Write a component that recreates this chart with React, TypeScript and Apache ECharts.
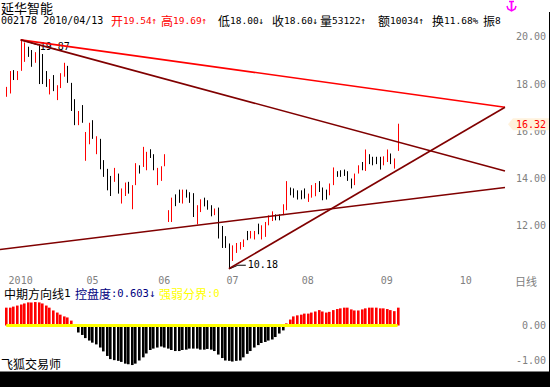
import React, { useEffect, useRef } from 'react';
import * as echarts from 'echarts';

// ---- daily bars (high / low / red=1 up, 0 down), 2010-03-30 .. 2010-09 ----
const highs = [
  17.88, 18.55, 18.59, 18.55, 19.87, 19.76, 19.58, 19.44, 19.35, 19.69,
  19.27, 18.55, 18.21, 18.38, 17.95, 18.46, 18.90, 18.77, 18.05, 17.36,
  16.86, 17.11, 15.97, 16.36, 16.47, 15.79, 15.68, 14.78, 14.41, 14.11,
  14.45, 14.21, 13.58, 13.83, 13.86, 13.72, 14.65, 14.56, 15.34, 15.13,
  15.24, 15.03, 14.45, 14.52, 15.03, 12.66, 13.19, 13.33, 13.53, 13.53,
  13.53, 13.42, 13.38, 12.87, 13.12, 13.19, 13.08, 12.87, 12.73, 12.77,
  11.99, 11.56, 11.25, 11.17, 11.27, 11.31, 11.42, 11.78, 11.78, 11.78,
  12.09, 12.02, 12.16, 12.44, 12.61, 12.48, 12.48, 12.91, 13.89, 13.62,
  13.58, 13.50, 13.50, 13.58, 13.36, 13.72, 13.81, 13.89, 13.62, 13.53,
  13.79, 14.47, 14.31, 14.35, 14.38, 14.31, 14.00, 14.21, 14.56, 14.70,
  15.23, 15.03, 14.92, 14.92, 14.92, 14.94, 15.23, 15.06, 14.85, 16.32,
];
const lows = [
  17.46, 17.60, 18.17, 18.17, 18.56, 18.94, 19.15, 18.73, 18.90, 18.00,
  18.00, 17.88, 17.56, 17.70, 17.32, 17.83, 18.31, 18.05, 16.86, 16.26,
  16.26, 16.36, 14.75, 15.45, 15.68, 15.03, 14.39, 14.07, 13.50, 13.26,
  13.86, 13.36, 12.94, 13.26, 13.36, 12.70, 13.72, 14.21, 14.49, 14.35,
  14.87, 14.35, 13.72, 13.90, 14.52, 12.16, 12.16, 12.83, 12.97, 12.94,
  13.19, 12.97, 12.37, 12.06, 12.58, 12.82, 12.68, 12.40, 12.45, 11.46,
  11.06, 11.06, 10.18, 10.51, 10.85, 10.99, 11.10, 11.39, 11.46, 11.42,
  11.64, 11.42, 11.53, 12.02, 12.20, 12.23, 12.23, 12.45, 12.66, 13.29,
  13.19, 13.11, 13.12, 13.15, 13.01, 13.19, 13.25, 13.43, 13.08, 13.11,
  13.29, 13.72, 14.07, 14.07, 14.11, 13.90, 13.58, 13.72, 14.21, 14.35,
  14.32, 14.61, 14.56, 14.61, 14.38, 14.56, 14.70, 14.61, 14.42, 15.17,
];
const rise = [
  1, 1, 0, 1, 1, 1, 0, 0, 1, 0,
  0, 0, 1, 0, 1, 1, 1, 0, 0, 0,
  1, 0, 1, 1, 0, 1, 0, 0, 0, 0,
  1, 0, 1, 1, 0, 1, 1, 0, 1, 1,
  0, 0, 1, 1, 1, 1, 1, 0, 0, 1,
  0, 0, 0, 1, 1, 0, 0, 0, 1, 0,
  0, 0, 0, 1, 1, 1, 1, 0, 1, 1,
  0, 1, 1, 1, 1, 0, 0, 1, 1, 0,
  0, 0, 0, 0, 1, 1, 1, 0, 0, 0,
  1, 1, 0, 0, 0, 0, 0, 1, 1, 0,
  1, 0, 0, 0, 0, 1, 1, 0, 1, 1,
];

// 中期方向线1 (histogram)
const trendIndicator = [
  0.51, 0.51, 0.54, 0.57, 0.60, 0.63, 0.66, 0.66, 0.67, 0.66,
  0.63, 0.57, 0.51, 0.43, 0.37, 0.31, 0.26, 0.23, 0.14, 0.03,
  -0.20, -0.27, -0.36, -0.43, -0.49, -0.54, -0.63, -0.74, -0.87, -0.96,
  -0.99, -1.01, -1.04, -1.09, -1.11, -1.13, -1.09, -1.00, -0.91, -0.80,
  -0.70, -0.66, -0.63, -0.60, -0.63, -0.66, -0.70, -0.73, -0.73, -0.70,
  -0.69, -0.66, -0.66, -0.66, -0.69, -0.69, -0.67, -0.69, -0.73, -0.83,
  -0.93, -1.00, -1.01, -1.03, -1.01, -1.00, -0.91, -0.81, -0.73, -0.63,
  -0.56, -0.50, -0.47, -0.43, -0.40, -0.33, -0.23, -0.14, 0.06, 0.17,
  0.26, 0.29, 0.31, 0.34, 0.34, 0.37, 0.40, 0.44, 0.40, 0.37,
  0.39, 0.44, 0.47, 0.49, 0.51, 0.51, 0.46, 0.43, 0.43, 0.46,
  0.49, 0.51, 0.51, 0.51, 0.49, 0.49, 0.47, 0.44, 0.41, 0.51,
];
const boundary = trendIndicator.map(() => 0); // 强弱分界:0

// month tick labels (bar index -> text)
const tickIdx = [4, 24, 44, 63, 84, 106, 128];
const tickText = ['2010', '05', '06', '07', '08', '09', '10'];

const priceTicks = [12, 14, 16, 18, 20];
const indTicks = [0, -1];

// trend lines [barIndex, price]
const trendLines = [
  { from: [4, 19.87], to: [138.94, 17.02], color: '#ff0000' },
  { from: [4, 19.87], to: [138.94, 14.32], color: '#800000' },
  { from: [-1.75, 10.995], to: [138.94, 13.62], color: '#800000' },
  { from: [62, 10.18], to: [138.94, 17.02], color: '#800000' },
];

const peak = { idx: 4, value: 19.87 };
const trough = { idx: 62, value: 10.18 };
const lastClose = 16.32;

const headerCode = '002178 2010/04/13';
const headerNames = ['开', '高', '低', '收', '量', '额', '换', '振'];
const headerValues = ['19.54↑', '19.69↑', '18.00↓', '18.60↓', '53122↑', '10034↑', '11.68%', '8'];
const headerRed = [1, 1, 0, 0, 0, 0, 0, 0];
const headerX = [111, 161, 218, 272, 320, 378, 432, 483];

const MONO = "'DejaVu Sans Mono', monospace";
const CJK = "'Noto Sans CJK SC', sans-serif";
const GRAY = '#808080';

export default function App() {
  const ref = useRef<HTMLDivElement>(null);
  useEffect(() => {
    if (!ref.current) return;
    const chart = echarts.init(ref.current, undefined, { renderer: 'svg' });

    const headerSegs = headerNames.map((n, k) => {
      const col = headerRed[k] ? '#ff0000' : '#000000';
      return {
        type: 'text', x: headerX[k], y: 20.5, silent: true,
        style: {
          text: `{c|${n}}{a|${headerValues[k]}}`,
          verticalAlign: 'middle',
          rich: {
            c: { fontFamily: CJK, fontSize: 12, fill: col },
            a: { fontFamily: MONO, fontSize: 9.5, fill: col },
          },
        },
      };
    });

    const staticGraphics: any[] = [
      { type: 'text', x: 1, y: 1, silent: true, style: { text: '延华智能', fontFamily: CJK, fontSize: 13, lineHeight: 13, fill: '#000', verticalAlign: 'top' } },
      { type: 'text', x: 1, y: 20.5, silent: true, style: { text: headerCode, fontFamily: MONO, fontSize: 10, fill: '#000', verticalAlign: 'middle' } },
      ...headerSegs,
      {
        type: 'text', x: 4, y: 293, silent: true,
        style: { text: '{c|中期方向线}{a|1}', verticalAlign: 'middle', rich: { c: { fontFamily: CJK, fontSize: 12, fill: '#000' }, a: { fontFamily: MONO, fontSize: 11, fill: '#000' } } },
      },
      {
        type: 'text', x: 75, y: 293, silent: true,
        style: { text: '{c|控盘度}{a|:0.603↓}', verticalAlign: 'middle', rich: { c: { fontFamily: CJK, fontSize: 12, fill: '#000080' }, a: { fontFamily: MONO, fontSize: 10.5, fill: '#000080' } } },
      },
      {
        type: 'text', x: 159, y: 293, silent: true,
        style: { text: '{c|强弱分界}{a|:0}', verticalAlign: 'middle', rich: { c: { fontFamily: CJK, fontSize: 12, fill: '#ffff00' }, a: { fontFamily: MONO, fontSize: 10.5, fill: '#ffff00' } } },
      },
      { type: 'text', x: 1, y: 363, silent: true, style: { text: '飞狐交易师', fontFamily: CJK, fontSize: 12, fill: '#000', verticalAlign: 'middle' } },
      { type: 'text', x: 515, y: 280.5, silent: true, style: { text: '日线', fontFamily: CJK, fontSize: 11, fill: GRAY, verticalAlign: 'middle' } },
      { type: 'rect', silent: true, shape: { x: 0, y: 371.5, width: 550, height: 16 }, style: { fill: '#000' } },
      { type: 'line', silent: true, shape: { x1: 549.5, y1: 12, x2: 549.5, y2: 372 }, style: { stroke: '#000', lineWidth: 1 } },
      // magenta anchor icon
      { type: 'line', silent: true, shape: { x1: 509, y1: 1.5, x2: 514, y2: 1.5 }, style: { stroke: '#ff00ff', lineWidth: 1.5 } },
      { type: 'line', silent: true, shape: { x1: 511.5, y1: 1, x2: 511.5, y2: 11 }, style: { stroke: '#ff00ff', lineWidth: 1.8 } },
      { type: 'polyline', silent: true, shape: { points: [[507, 6], [508, 9], [511.5, 11], [515, 9], [516, 6]] }, style: { stroke: '#ff00ff', lineWidth: 1.5, fill: 'none' } },
    ];

    const option: any = {
      animation: false,
      backgroundColor: '#ffffff',
      grid: [
        { left: 0, top: 25, width: 507, height: 248 },
        { left: 0, top: 290.5, width: 507, height: 77 },
      ],
      xAxis: [
        {
          type: 'value', gridIndex: 0, min: -1.75, max: 139.5,
          axisLine: { show: false }, axisTick: { show: false }, splitLine: { show: false },
          axisLabel: {
            customValues: tickIdx,
            formatter: (v: number) => { const k = tickIdx.indexOf(Math.round(v)); return k >= 0 ? tickText[k] : ''; },
            color: GRAY, fontFamily: MONO, fontSize: 10, margin: 2,
          },
        },
        {
          type: 'value', gridIndex: 1, min: -1.75, max: 139.5, show: false,
          splitLine: { show: false },
        },
      ],
      yAxis: [
        {
          type: 'value', gridIndex: 0, position: 'right', min: 10, max: 20.5,
          axisLine: { show: false }, axisTick: { show: false }, splitLine: { show: false },
          axisLabel: {
            customValues: priceTicks, formatter: (v: number) => v.toFixed(2),
            color: GRAY, fontFamily: MONO, fontSize: 10, align: 'right', margin: 39,
          },
        },
        {
          type: 'value', gridIndex: 1, position: 'right', min: -1.2, max: 1.0,
          axisLine: { show: false }, axisTick: { show: false }, splitLine: { show: false },
          axisLabel: {
            customValues: indTicks, formatter: (v: number) => v.toFixed(2),
            color: GRAY, fontFamily: MONO, fontSize: 10, align: 'right', margin: 39,
          },
        },
      ],
      series: [
        {
          type: 'custom', xAxisIndex: 0, yAxisIndex: 0, silent: true,
          data: highs.map((h, i) => [i, lows[i], h, rise[i]]),
          encode: { x: 0, y: [1, 2] },
          renderItem: (_p: any, api: any) => {
            const i = api.value(0);
            const lo = api.coord([i, api.value(1)]);
            const hi = api.coord([i, api.value(2)]);
            const px = Math.round(lo[0]) + 0.5;
            return {
              type: 'line',
              shape: { x1: px, y1: lo[1], x2: px, y2: hi[1] },
              style: { stroke: api.value(3) ? '#ff0000' : '#000000', lineWidth: 1 },
            };
          },
        },
        ...trendLines.map((t) => ({
          type: 'line', xAxisIndex: 0, yAxisIndex: 0, silent: true,
          data: [t.from, t.to], symbol: 'none',
          lineStyle: { color: t.color, width: 1.6 },
        })),
        {
          type: 'custom', xAxisIndex: 1, yAxisIndex: 1, silent: true,
          data: trendIndicator.map((v, i) => [i, v]),
          encode: { x: 0, y: 1 },
          renderItem: (_p: any, api: any) => {
            const i = api.value(0);
            const v = api.value(1);
            const p0 = api.coord([i, 0]);
            const p1 = api.coord([i, v]);
            const px = Math.round(p0[0]);
            return {
              type: 'rect',
              shape: { x: px - 1, y: Math.min(p0[1], p1[1]), width: 2.6, height: Math.abs(p1[1] - p0[1]) },
              style: { fill: v >= 0 ? '#ff0000' : '#000000' },
            };
          },
        },
        {
          type: 'line', xAxisIndex: 1, yAxisIndex: 1, silent: true,
          data: boundary.map((v, i) => [i, v]), symbol: 'none',
          lineStyle: { color: '#ffff00', width: 3 },
        },
      ],
      graphic: staticGraphics,
    };

    chart.setOption(option);

    const pk = chart.convertToPixel({ gridIndex: 0 }, [peak.idx, peak.value]) as number[];
    const tr = chart.convertToPixel({ gridIndex: 0 }, [trough.idx, trough.value]) as number[];
    const lc = chart.convertToPixel({ gridIndex: 0 }, [139.5, lastClose]) as number[];
    const ty = lc[1];

    chart.setOption({
      graphic: [
        ...staticGraphics,
        { type: 'polyline', silent: true, shape: { points: [[pk[0] + 1, pk[1]], [pk[0] + 17, pk[1] + 5]] }, style: { stroke: '#000', lineWidth: 1, fill: 'none' } },
        { type: 'text', x: pk[0] + 19, y: pk[1] + 7, silent: true, style: { text: peak.value.toFixed(2), fontFamily: MONO, fontSize: 10, fill: '#000', verticalAlign: 'middle' } },
        { type: 'polyline', silent: true, shape: { points: [[tr[0] + 1, tr[1]], [tr[0] + 9, tr[1] - 3.5], [tr[0] + 17, tr[1] - 3.5]] }, style: { stroke: '#000', lineWidth: 1, fill: 'none' } },
        { type: 'text', x: tr[0] + 19, y: tr[1] - 4.5, silent: true, style: { text: trough.value.toFixed(2), fontFamily: MONO, fontSize: 10, fill: '#000', verticalAlign: 'middle' } },
        { type: 'polygon', silent: true, z: 100, shape: { points: [[508, ty + 0.5], [513, ty - 5.5], [549, ty - 5.5], [549, ty + 6.5], [513, ty + 6.5]] }, style: { fill: '#fff2dc' } },
        { type: 'text', x: 546, y: ty + 0.5, silent: true, z: 101, style: { text: lastClose.toFixed(2), fontFamily: MONO, fontSize: 10, fill: '#ff0000', align: 'right', verticalAlign: 'middle' } },
      ],
    }, { replaceMerge: ['graphic'] });

    return () => chart.dispose();
  }, []);

  return (
    <div
      ref={ref}
      style={{ position: 'fixed', left: 0, top: 0, width: 550, height: 387, background: '#fff' }}
    />
  );
}
